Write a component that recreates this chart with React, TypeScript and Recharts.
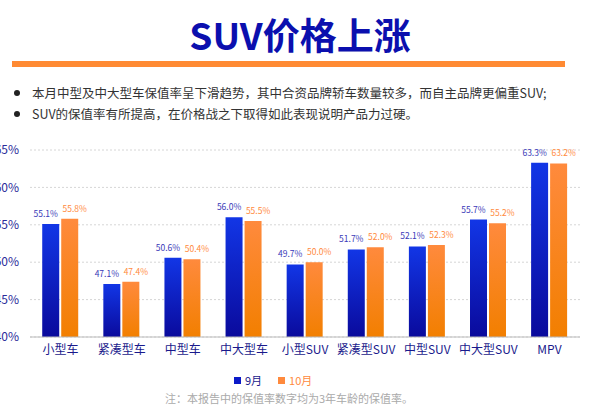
import React from "react";
import { BarChart, Bar, XAxis, YAxis, CartesianGrid, LabelList } from "recharts";

const categories = ["小型车", "紧凑型车", "中型车", "中大型车", "小型SUV", "紧凑型SUV", "中型SUV", "中大型SUV", "MPV"];
const sep = [55.1, 47.1, 50.6, 56.0, 49.7, 51.7, 52.1, 55.7, 63.3];
const oct = [55.8, 47.4, 50.4, 55.5, 50.0, 52.0, 52.3, 55.2, 63.2];
const yTicks = [40, 45, 50, 55, 60, 65];

const data = categories.map((name, i) => ({ name, sep: sep[i], oct: oct[i] }));
const font = "'Noto Sans CJK SC', 'Noto Sans', sans-serif";

const makeLabel = (color: string, dx: number) => (props: any) => {
  const { x, y, width, value } = props;
  return (
    <text x={x + width / 2 + dx} y={y - 7} textAnchor="middle" fill={color} fontSize={8.5}>
      {`${Number(value).toFixed(1)}%`}
    </text>
  );
};

const App = () => {
  return (
    <div style={{ position: "absolute", left: 0, top: 0, width: 608, height: 415, background: "#fff", fontFamily: font, overflow: "hidden" }}>
      <div style={{ position: "absolute", top: 10, width: 600, textAlign: "center", fontSize: 37, fontWeight: 700, color: "#0b0fae", lineHeight: "48px" }}>
        SUV价格上涨
      </div>
      <div style={{ position: "absolute", left: 12, top: 61, width: 553, height: 6, background: "#ff8a33" }} />
      <div style={{ position: "absolute", left: 12, top: 82, fontSize: 12.5, color: "#333", lineHeight: "21px" }}>
        <div>
          <span style={{ display: "inline-block", width: 6, height: 6, borderRadius: 3, background: "#222", margin: "0 12px 2px 2px" }} />
          本月中型及中大型车保值率呈下滑趋势，其中合资品牌轿车数量较多，而自主品牌更偏重SUV;
        </div>
        <div>
          <span style={{ display: "inline-block", width: 6, height: 6, borderRadius: 3, background: "#222", margin: "0 12px 2px 2px" }} />
          SUV的保值率有所提高，在价格战之下取得如此表现说明产品力过硬。
        </div>
      </div>
      <div style={{ position: "absolute", left: -8, top: 140 }}>
        <BarChart width={588} height={222} data={data} margin={{ top: 10, right: 0, left: 0, bottom: 0 }} barGap={2} barCategoryGap="20%">
          <defs>
            <linearGradient id="gBlue" x1="0" y1="0" x2="0" y2="1">
              <stop offset="0%" stopColor="#1236e6" />
              <stop offset="100%" stopColor="#0a0a9c" />
            </linearGradient>
            <linearGradient id="gOrange" x1="0" y1="0" x2="0" y2="1">
              <stop offset="0%" stopColor="#ff8a3d" />
              <stop offset="100%" stopColor="#f27f00" />
            </linearGradient>
          </defs>
          <CartesianGrid vertical={false} stroke="#d6d6d6" strokeDasharray="2 2" />
          <XAxis dataKey="name" height={25} tickLine={false} axisLine={{ stroke: "#bbb" }} tick={{ fill: "#1a1a8c", fontSize: 12 }} interval={0} />
          <YAxis domain={[40, 65]} ticks={yTicks} width={38} axisLine={false} tickLine={false} tickMargin={5}
            tickFormatter={(v) => `${v}%`} tick={{ fill: "#2a2a9a", fontSize: 12 }} />
          <Bar dataKey="sep" fill="url(#gBlue)" isAnimationActive={false}>
            <LabelList dataKey="sep" content={makeLabel("#3a3ab8", -5)} />
          </Bar>
          <Bar dataKey="oct" fill="url(#gOrange)" isAnimationActive={false}>
            <LabelList dataKey="oct" content={makeLabel("#ff8a3d", 5)} />
          </Bar>
        </BarChart>
      </div>
      <div style={{ position: "absolute", top: 372, left: 234, fontSize: 11, color: "#1a1a8c", display: "flex", alignItems: "center" }}>
        <span style={{ width: 7, height: 7, background: "#0b1ac8", marginRight: 4 }} />9月
        <span style={{ width: 7, height: 7, background: "#ff8a3d", margin: "0 4px 0 16px" }} />
        <span style={{ color: "#ff8a3d" }}>10月</span>
      </div>
      <div style={{ position: "absolute", top: 390, left: 165, fontSize: 11, color: "#aaa" }}>
        注：本报告中的保值率数字均为3年车龄的保值率。
      </div>
    </div>
  );
};

export default App;
